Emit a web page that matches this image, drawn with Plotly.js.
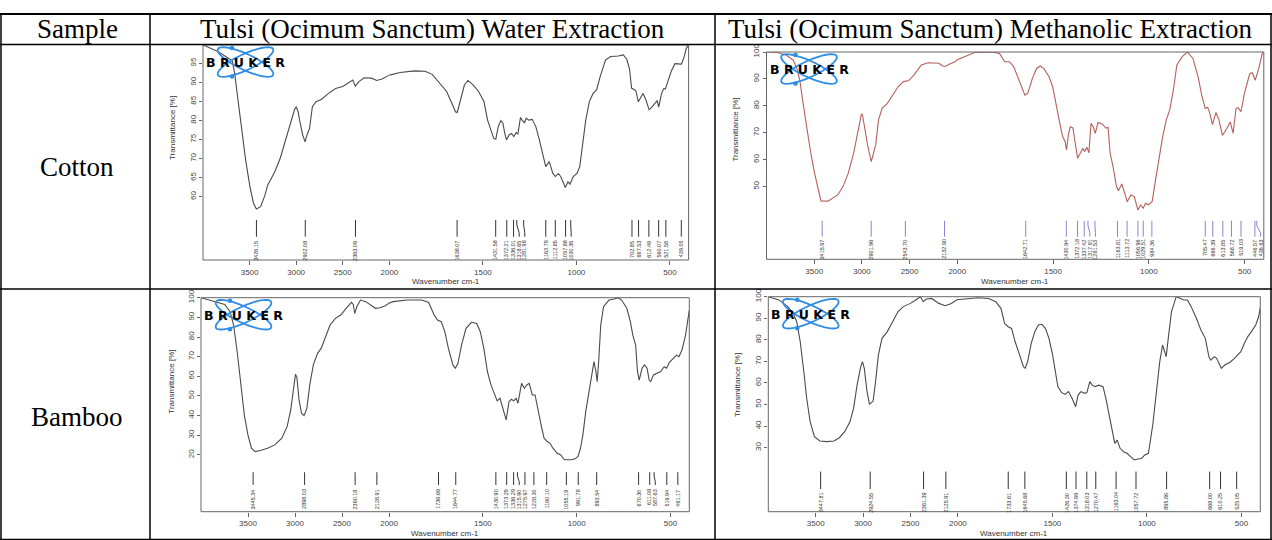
<!DOCTYPE html>
<html><head><meta charset="utf-8">
<script src="https://cdn.plot.ly/plotly-3.0.1.min.js"></script>
<style>html,body{margin:0;padding:0;background:#fff}#chart{width:1272px;height:540px}</style>
</head><body><div id="chart"></div>
<script>
// ---------- Table text ----------
const columnHeaders = ["Sample", "Tulsi (Ocimum Sanctum) Water Extraction", "Tulsi (Ocimum Sanctum) Methanolic Extraction"];
const sampleNames = ["Cotton", "Bamboo"];
const xTickVals = [3500, 3000, 2500, 2000, 1500, 1000, 500];
const xAxisTitle = "Wavenumber cm-1";
const yAxisTitle = "Transmittance [%]";
const logoText = "B R U K E R";

// ---------- Cotton / water extraction ----------
const cottonWaterWn = [4000,3841,3687,3660,3638,3611,3580,3542,3496,3458,
 3427,3381,3335,3305,3267,3228,3171,3113,3056,3018,
 2999,2979,2960,2930,2904,2884,2856,2826,2787,2730,
 2653,2577,2500,2442,2392,2365,2327,2270,2193,2135,
 2078,2000,1943,1866,1809,1771,1733,1694,1666,1647,
 1637,1618,1599,1580,1551,1523,1494,1475,1456,1442,
 1431,1418,1404,1393,1383,1374,1360,1347,1335,1322,
 1313,1299,1290,1278,1268,1255,1236,1217,1198,1179,
 1164,1145,1126,1112,1097,1084,1070,1059,1045,1034,
 1017,997,982,969,950,931,911,892,873,844,
 816,777,749,730,716,705,692,682,669,653,
 644,629,611,596,577,568,560,545,534,524,
 511,492,473,453,438,425,412,400];
const cottonWaterT = [99.8,98.1,95.7,92.4,88,82.8,76.6,69.6,62.6,58.3,
 56.8,57.4,60.4,63.1,64.8,66.6,70.1,74.9,79.7,82.8,
 83.6,82.3,79.7,76.2,74.4,76.2,77.9,83.6,84.9,85.5,
 87.1,88.4,88.9,89.8,90.6,89,90.2,91.2,91.1,90.5,
 90.9,91.9,92.6,93,92.9,92.1,90,87.6,84.5,82.3,
 82.1,85.4,89.3,90.5,89.3,87.6,84.9,80.1,77.1,75.3,
 75.1,78.4,80,79.3,76.6,74.9,76.2,76.6,75.8,76.8,
 76.4,80.8,80.1,79.4,80.6,80.1,80.3,78.4,74.9,71.4,
 67.9,69.2,66.1,65.3,66.1,65.3,63.5,62.4,63.9,63.3,
 65.3,66.1,67.9,73.1,80.1,84.9,87.1,88,91.5,95.9,
 96.8,96.9,97.2,96,93.5,88.5,88.2,87.8,84.9,86.5,
 87.1,85.5,82.8,83.6,84.6,85.2,83.5,87,88.3,88.3,
 90.2,93,94.9,94.8,94.8,96.5,99,99.8];
const cottonWaterPeaks = [3426.15,2902.08,2363.09,1638.07,1431.58,1372.21,1336.01,1318.65,1281.98,1163.79,1112.85,1057.88,1030.36,702.85,667.53,612.49,560.07,521.58,439.05];
const cottonWaterYTicks = [60,65,70,75,80,85,90,95];

// ---------- Cotton / methanolic extraction ----------
const cottonMethWn = [4000,3888,3795,3720,3675,3646,3616,3579,3541,3496,
 3452,3429,3355,3291,3254,3198,3142,3086,3041,3004,
 2993,2974,2937,2902,2881,2855,2825,2788,2732,2676,
 2620,2564,2508,2452,2377,2303,2247,2191,2154,2124,
 2079,2023,1984,1956,1910,1817,1780,1752,1728,1706,
 1678,1660,1647,1632,1608,1586,1567,1549,1521,1502,
 1484,1465,1450,1437,1430,1419,1410,1396,1387,1372,
 1358,1345,1335,1324,1313,1302,1291,1280,1265,1243,
 1224,1213,1202,1187,1169,1159,1141,1128,1113,1094,
 1076,1057,1043,1030,1017,1002,983,965,947,928,
 909,891,872,854,826,798,770,743,724,706,
 693,683,668,650,635,616,594,575,560,545,
 534,519,501,473,460,445,426,408,400];
const cottonMethT = [100,99.8,98.9,97,93.3,88.4,80.9,72.3,63.6,55,
 48.8,44.7,44.6,46,46.9,50,55,62.4,69.8,77,
 76.6,72.3,64.9,59.3,62.4,65.5,74.8,79.1,80.9,84,
 87.1,89,89.4,91.5,95.2,96,95.8,95.8,94.8,94.6,
 95.5,96.4,97.6,98.5,99.8,100,99.5,96.4,96.4,94.6,
 89.6,85.9,84,84.7,90.2,93.9,94.8,93.9,90.8,87.1,
 79.7,73.5,68.6,66.7,63.6,69.8,72.3,71.7,67.3,60.5,
 62.4,64.2,63,64.6,62.6,73.5,72.3,69.8,73.8,73.3,
 71.7,72,62.4,57.4,50,48.5,51,48.1,44.4,46.9,
 46.3,41.3,43.2,42,43.8,43.2,44.4,52.5,61.1,68.6,
 74.8,78.5,85.9,95.2,98.3,100,97.6,90.8,84,79,
 79.5,77.5,73,77.5,75,69,71.5,74,69.8,79,
 79.3,77.8,84.7,92,92.3,89.5,94,99.5,100];
const cottonMethPeaks = [3415.97,2901.96,2543.70,2132.90,1642.71,1430.94,1372.18,1337.42,1317.91,1281.53,1163.81,1113.72,1056.96,1029.51,984.36,705.47,666.39,613.85,568.72,519.03,446.57,436.63];
const cottonMethYTicks = [50,60,70,80,90,100];

// ---------- Bamboo / water extraction ----------
const bambooWaterWn = [4000,3862,3748,3691,3653,3615,3577,3539,3501,3463,
 3425,3368,3292,3216,3140,3083,3045,3018,2995,2980,
 2957,2931,2904,2874,2843,2805,2760,2722,2684,2627,
 2570,2513,2456,2399,2380,2365,2342,2304,2247,2190,
 2144,2095,2038,1979,1903,1827,1789,1760,1742,1722,
 1703,1684,1660,1647,1633,1614,1590,1561,1533,1514,
 1495,1476,1457,1438,1424,1409,1393,1376,1361,1348,
 1336,1323,1313,1294,1279,1266,1253,1237,1222,1203,
 1190,1174,1157,1142,1127,1104,1085,1066,1047,1028,
 1009,993,980,967,952,933,918,908,899,891,
 883,872,857,828,800,780,761,733,714,701,
 686,676,667,652,639,625,614,606,591,572,
 553,534,521,506,487,468,455,439,420,407,
 400];
const bambooWaterT = [100,98.3,96.6,92.9,86.1,72.5,55.6,40.3,30.2,23.4,
 21.7,22.2,23.4,25.1,28.5,34.5,43,54,61,59.5,
 48,41.2,40,43.7,55.6,65.8,71.7,74.2,79.3,86.1,
 89.5,91.2,94.6,97.6,96.6,92,95.4,98.8,98,96.3,
 94.6,94.9,95.9,98,98.8,98.8,97.6,91.2,88.6,87.8,
 82.7,74.2,65.8,64.1,66.6,75.9,84.4,87.5,86.9,82.7,
 74.2,62.4,55.6,51.4,47.5,48.8,43.7,37.8,47.1,48.3,
 47.5,48.8,46.3,56.4,53.9,55.6,56.4,50.5,50.5,40.3,
 35.3,28.5,26.8,25.9,23.4,20.8,20,17.5,17.5,17.5,
 18,19.2,23.4,30.2,42,52.2,62.4,67.5,63.2,57.3,
 67.5,86.1,95.4,98.8,99.3,100,98.8,94.6,87.8,81,
 75.9,62.4,58.1,64.1,65.8,64.1,58.1,57.3,60.7,61.5,
 62.4,64.9,64.1,67.1,69.2,70.8,70,73.4,81,89.5,
 93.7];
const bambooWaterPeaks = [3445.34,2898.03,2360.18,2128.91,1736.69,1644.77,1430.90,1373.29,1336.29,1315.90,1275.97,1228.30,1160.10,1055.19,991.78,893.54,670.30,611.08,587.63,519.94,461.17];
const bambooWaterYTicks = [20,30,40,50,60,70,80,90,100];

// ---------- Bamboo / methanolic extraction ----------
const bambooMethWn = [4000,3888,3794,3738,3700,3663,3625,3595,3558,3513,
 3456,3381,3306,3250,3194,3138,3100,3063,3025,3006,
 2987,2958,2932,2894,2868,2838,2800,2744,2688,2632,
 2575,2500,2444,2395,2365,2332,2275,2200,2133,2069,
 2013,1969,1894,1837,1800,1772,1753,1734,1716,1697,
 1672,1653,1644,1631,1612,1593,1574,1556,1537,1518,
 1499,1484,1471,1452,1433,1415,1396,1377,1364,1349,
 1330,1317,1302,1289,1274,1255,1232,1217,1199,1183,
 1170,1157,1142,1123,1105,1086,1067,1048,1029,1011,
 992,969,950,932,917,907,898,887,870,845,
 823,804,785,766,738,714,691,672,662,644,
 631,616,606,588,560,537,522,503,484,466,
 447,424,409,400];
const bambooMethT = [100,98.5,95.4,92.3,88.4,79.1,65.2,52.9,42,35.1,
 33.1,32.8,33.1,34.6,37.4,42,48.2,59,67.5,69.9,
 66.8,56,50.1,51.6,60.6,73,80.7,83.8,88.4,93,
 95.4,96.9,98.5,100,97.7,98.9,99.2,96.9,95.8,96.9,
 98.5,98.9,99.5,99.2,97.7,94.6,87.6,86.1,85.3,79.1,
 72.2,67.5,66.8,69.9,78.4,83.8,86.9,87.2,85.3,80.7,
 73,65.2,58.3,55.6,54.7,56,52.9,49,54.4,56,
 55.2,55.6,60.6,59,58.3,59,58.3,52.9,44.4,37.4,
 32,33.5,29.7,28.1,27.4,25.8,24.3,24.7,25,26.6,
 27.4,40.5,56,69.9,77.6,74.5,72.2,80.7,93,100,
 99.2,98.5,98.5,95.4,90,84.5,80.7,72.2,70.6,72.2,
 71.4,68.3,66.8,68.3,69.6,71.4,73,74.5,78.4,81.5,
 83.8,86.9,90.7,95];
const bambooMethPeaks = [3447.81,2924.55,2361.39,2125.91,1733.61,1645.68,1426.30,1374.99,1318.03,1270.47,1163.04,1057.72,895.86,668.00,610.25,525.05];
const bambooMethYTicks = [30,40,50,60,70,80,90,100];

// ---------- Layout helpers (pixel geometry) ----------
const W = 1272, H = 540;
const PX = v => v / W;
const PY = v => 1 - v / H;
const sans = 'Liberation Sans, Arial, sans-serif';
const serif = 'Liberation Serif, Times New Roman, serif';

const panels = [
  {wn: cottonWaterWn, t: cottonWaterT, peaks: cottonWaterPeaks, yt: cottonWaterYTicks,
   box: [203, 45, 688.6, 260], split: 389.3, yr: [43.4, 99.8],
   lineColor: '#4a4a4a', peakColor: '#333', peakY: [53.9, 49.5], labelTop: 48.8,
   yTitle: [172, 128], xTitle: 281},
  {wn: cottonMethWn, t: cottonMethT, peaks: cottonMethPeaks, yt: cottonMethYTicks,
   box: [766.5, 52, 1263.8, 259.3], split: 957.2, yr: [23, 100],
   lineColor: '#b5605a', peakColor: '#8585d0', peakY: [37.3, 31.4], labelTop: 30.8,
   yTitle: [735.6, 130], xTitle: 281},
  {wn: bambooWaterWn, t: bambooWaterT, peaks: bambooWaterPeaks, yt: bambooWaterYTicks,
   box: [201, 297.7, 689.3, 511.7], split: 389, yr: [-8.9, 100],
   lineColor: '#4a4a4a', peakColor: '#333', peakY: [11.2, 4.7], labelTop: 3.0,
   yTitle: [170.7, 382], xTitle: 533},
  {wn: bambooMethWn, t: bambooMethT, peaks: bambooMethPeaks, yt: bambooMethYTicks,
   box: [768.3, 296.7, 1260.3, 511.7], split: 957.8, yr: [0.3, 100],
   lineColor: '#4a4a4a', peakColor: '#333', peakY: [18.9, 10.8], labelTop: 9.6,
   yTitle: [738, 385], xTitle: 533}
];

const traces = [], shapes = [], annotations = [];
const layout = {
  width: W, height: H, margin: {l: 0, r: 0, t: 0, b: 0},
  paper_bgcolor: '#fff', plot_bgcolor: 'rgba(0,0,0,0)', showlegend: false
};
const paperText = (x, y, text, font, extra) => Object.assign({
  xref: 'paper', yref: 'paper', x: PX(x), y: PY(y), text: text, showarrow: false,
  xanchor: 'center', yanchor: 'middle', font: font}, extra || {});

panels.forEach((p, i) => {
  const nu = 2 * i + 1, nl = 2 * i + 2, ny = i + 1;
  const xu = 'x' + nu, xl = 'x' + nl, yy = 'y' + ny;
  const key = (a, n) => n === 1 ? a : a + n;
  const [L, T, R, B] = p.box;
  const tickCommon = {
    ticks: 'outside', ticklen: 4, tickwidth: 1, tickcolor: '#666',
    tickfont: {size: 8, family: sans, color: '#444'},
    showgrid: false, zeroline: false, showline: false, fixedrange: true
  };
  layout[key('xaxis', nu)] = Object.assign({}, tickCommon, {
    domain: [PX(L), PX(p.split)], range: [4000, 2000], anchor: yy,
    tickmode: 'array', tickvals: xTickVals.filter(v => v > 2000)
  });
  layout[key('xaxis', nl)] = Object.assign({}, tickCommon, {
    domain: [PX(p.split), PX(R)], range: [2000.5, 400], anchor: yy,
    tickmode: 'array', tickvals: xTickVals.filter(v => v <= 2000)
  });
  layout[key('yaxis', ny)] = Object.assign({}, tickCommon, {
    domain: [PY(B), PY(T)], range: p.yr, anchor: xu,
    tickmode: 'array', tickvals: p.yt, tickangle: -90, ticklen: 3
  });

  // spectrum split at 2000 cm-1 (OPUS half-scale above 2000)
  const firstBelow = p.wn.findIndex(w => w < 2000);
  traces.push({type: 'scatter', mode: 'lines', xaxis: xu, yaxis: yy, hoverinfo: 'skip',
    x: p.wn.slice(0, firstBelow + 1), y: p.t.slice(0, firstBelow + 1),
    line: {color: p.lineColor, width: 1.1}});
  traces.push({type: 'scatter', mode: 'lines', xaxis: xl, yaxis: yy, hoverinfo: 'skip',
    x: p.wn.slice(firstBelow - 1), y: p.t.slice(firstBelow - 1),
    line: {color: p.lineColor, width: 1.1}});

  // frame
  shapes.push({type: 'rect', xref: 'paper', yref: 'paper', x0: PX(L), x1: PX(R), y0: PY(B), y1: PY(T),
    line: {color: '#666', width: 1}, layer: 'above'});

  // peak markers with label spreading
  const toPx = w => w >= 2000 ? L + (4000 - w) / 2000 * (p.split - L) : p.split + (2000 - w) / 1600 * (R - p.split);
  const toWn = x => x <= p.split ? 4000 - (x - L) / (p.split - L) * 2000 : 2000 - (x - p.split) / (R - p.split) * 1600;
  const sorted = p.peaks.slice().sort((a, b) => b - a);
  let last = -1e9;
  const [yTop, yBot] = p.peakY;
  const len = yTop - yBot;
  sorted.forEach(w => {
    const x0 = toPx(w);
    const lx = Math.max(x0, last + 5.6);
    last = lx;
    const lw = toWn(lx);
    const ax = w >= 2000 ? xu : xl;
    let path;
    if (lx - x0 < 0.4) path = `M${w},${yTop} L${w},${yBot}`;
    else path = `M${w},${yTop} L${w},${yTop - 0.3 * len} L${lw},${yTop - 0.75 * len} L${lw},${yBot}`;
    shapes.push({type: 'path', xref: ax, yref: yy, path: path, line: {color: p.peakColor, width: 1}});
    annotations.push({xref: ax, yref: yy, x: lw, y: p.labelTop, text: w.toFixed(2), textangle: -90,
      showarrow: false, xanchor: 'center', yanchor: 'top', borderpad: 0,
      font: {size: 5.5, family: sans, color: '#333'}});
  });

  // axis titles
  annotations.push(paperText((L + R) / 2, p.xTitle, xAxisTitle, {size: 8, family: sans, color: '#333'}));
  annotations.push(paperText(p.yTitle[0], p.yTitle[1], yAxisTitle, {size: 8, family: sans, color: '#333'}, {textangle: -90}));

  // Bruker logo (decorative)
  const cx = L + 42.5, cy = T + 17;
  [25, -25].forEach(deg => {
    const th = deg * Math.PI / 180, a = 30.5, b = 8;
    let d = '';
    for (let k = 0; k <= 48; k++) {
      const tt = k / 48 * 2 * Math.PI;
      const ex = cx + a * Math.cos(tt) * Math.cos(th) - b * Math.sin(tt) * Math.sin(th);
      const ey = cy + a * Math.cos(tt) * Math.sin(th) + b * Math.sin(tt) * Math.cos(th);
      d += (k === 0 ? 'M' : 'L') + PX(ex).toFixed(5) + ',' + PY(ey).toFixed(5) + ' ';
    }
    shapes.push({type: 'path', xref: 'paper', yref: 'paper', path: d + 'Z',
      line: {color: '#2f8de4', width: 1.8}, layer: 'above'});
  });
  [[-13.5, -14], [-13.5, 14.5]].forEach(([dx, dy]) => {
    shapes.push({type: 'circle', xref: 'paper', yref: 'paper',
      x0: PX(cx + dx - 2.3), x1: PX(cx + dx + 2.3), y0: PY(cy + dy + 2.3), y1: PY(cy + dy - 2.3),
      fillcolor: '#2f8de4', line: {width: 0}, layer: 'above'});
  });
  annotations.push(paperText(cx, cy + 0.5, '<b>' + logoText + '</b>', {size: 12.5, family: 'DejaVu Sans, sans-serif', color: '#000'}));
});

// ---------- Table grid ----------
const hLines = [[14, 2], [44.5, 1.5], [289, 1.5], [539.5, 1.5]];
hLines.forEach(([y, w]) => shapes.push({type: 'line', xref: 'paper', yref: 'paper',
  x0: 0, x1: 1, y0: PY(y), y1: PY(y), line: {color: '#000', width: w}, layer: 'above'}));
[1, 150, 715, 1271].forEach(x => shapes.push({type: 'line', xref: 'paper', yref: 'paper',
  x0: PX(x), x1: PX(x), y0: PY(14), y1: PY(540), line: {color: '#000', width: 1.5}, layer: 'above'}));

const headerX = [77, 432.5, 990];
columnHeaders.forEach((h, k) => annotations.push(paperText(headerX[k], 29.5, h, {size: 27, family: serif, color: '#000'})));
const rowY = [167, 417];
sampleNames.forEach((s, k) => annotations.push(paperText(77, rowY[k], s, {size: 27, family: serif, color: '#000'})));

layout.shapes = shapes;
layout.annotations = annotations;
Plotly.newPlot('chart', traces, layout, {displayModeBar: false, staticPlot: true});
</script>
</body></html>
